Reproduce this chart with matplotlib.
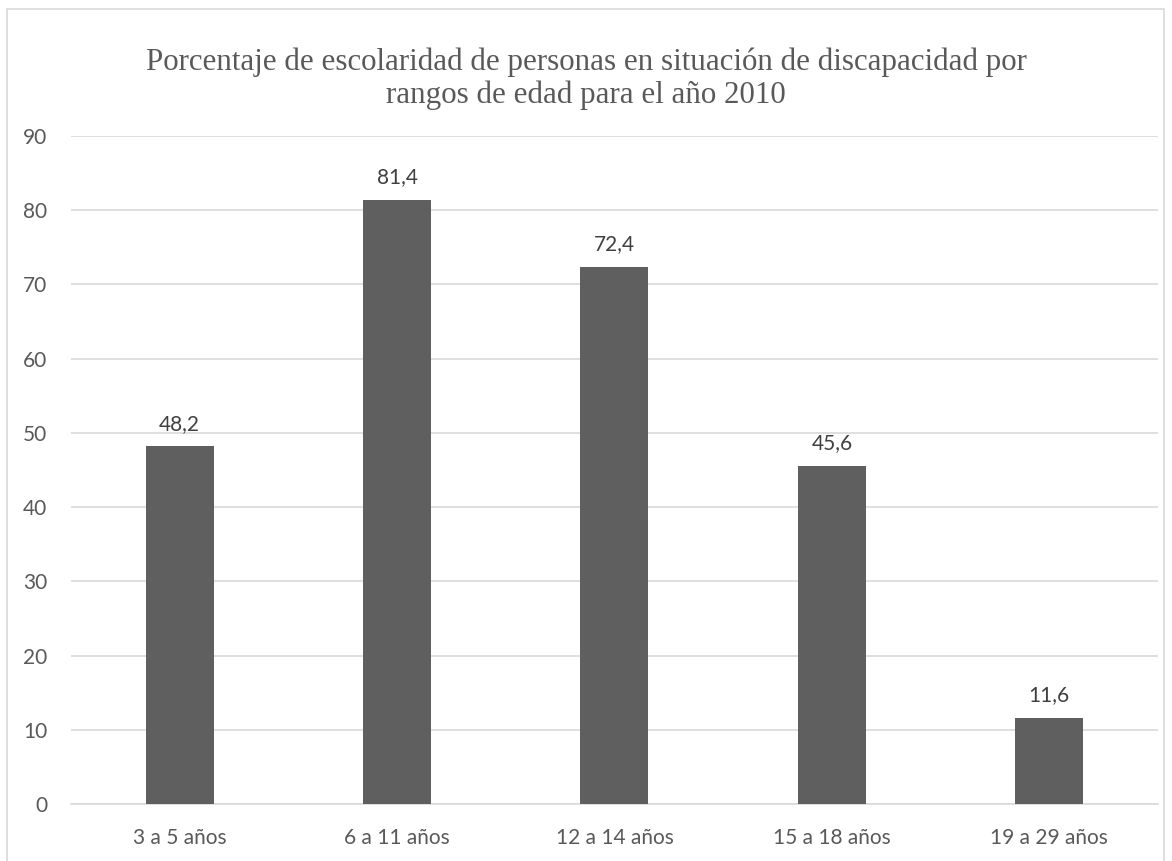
import matplotlib.pyplot as plt
from matplotlib.patches import Rectangle

categorias = ['3 a 5 años', '6 a 11 años', '12 a 14 años', '15 a 18 años', '19 a 29 años']
valores = [48.2, 81.4, 72.4, 45.6, 11.6]
etiquetas = ['48,2', '81,4', '72,4', '45,6', '11,6']
titulo = 'Porcentaje de escolaridad de personas en situación de discapacidad por\nrangos de edad para el año 2010'

gris_texto = '#595959'
fuente = 'Lato'

fig = plt.figure(figsize=(11.72, 8.61), dpi=100)
ax = fig.add_axes([0.0606, 0.0662, 0.9274, 0.7758])

# borde del gráfico
fig.patches.append(Rectangle((7 / 1172, -0.01), 1157 / 1172, 1 - 9 / 861 + 0.01,
                             transform=fig.transFigure, fill=False,
                             edgecolor='#d9d9d9', linewidth=1.2))

x = range(len(categorias))
barras = ax.bar(x, valores, width=0.313, color='#5f5f5f', zorder=3)
for b, t in zip(barras, etiquetas):
    ax.annotate(t, (b.get_x() + b.get_width() / 2, b.get_height()),
                xytext=(0, 9), textcoords='offset points', ha='center', va='bottom',
                fontsize=15, color='#404040', family=fuente)

ax.set_xlim(-0.5, len(categorias) - 0.5)
ax.set_ylim(0, 90)
ax.set_yticks(range(0, 91, 10))
ax.set_xticks(list(x))
ax.set_xticklabels(categorias)
ax.yaxis.grid(True, color='#d9d9d9', linewidth=1.2, zorder=0)
for s in ['top', 'right', 'left']:
    ax.spines[s].set_visible(False)
ax.spines['bottom'].set_color('#d9d9d9')
ax.spines['bottom'].set_linewidth(1.2)
ax.tick_params(length=0, labelsize=15, labelcolor=gris_texto)
ax.tick_params(axis='x', pad=17)
ax.tick_params(axis='y', pad=17)
for lab in ax.get_xticklabels() + ax.get_yticklabels():
    lab.set_family(fuente)

fig.text(0.5, 0.909, titulo, ha='center', va='center', fontsize=22.3,
         family='Liberation Serif', color=gris_texto, linespacing=1.15)

fig.savefig('out.png', dpi=100)
